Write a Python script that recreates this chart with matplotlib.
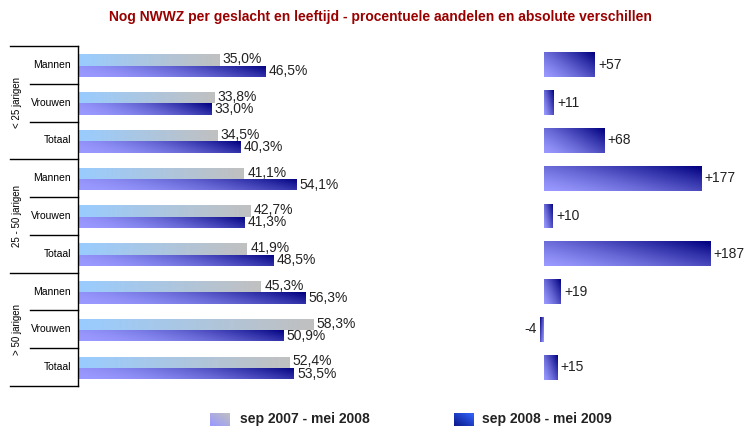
import numpy as np
import matplotlib
matplotlib.use("Agg")
import matplotlib.pyplot as plt
from matplotlib.colors import LinearSegmentedColormap

plt.rcParams['font.family'] = ['Liberation Sans', 'DejaVu Sans']

# Data
titel = "Nog NWWZ per geslacht en leeftijd - procentuele aandelen en absolute verschillen"
categorieen = ["Mannen", "Vrouwen", "Totaal"] * 3
groepen = ["< 25 jarigen", "25 - 50 jarigen", "> 50 jarigen"]
aandeel_2008 = [35.0, 33.8, 34.5, 41.1, 42.7, 41.9, 45.3, 58.3, 52.4]
aandeel_2009 = [46.5, 33.0, 40.3, 54.1, 41.3, 48.5, 56.3, 50.9, 53.5]
verschil = [57, 11, 68, 177, 10, 187, 19, -4, 15]
legenda = ["sep 2007 - mei 2008", "sep 2008 - mei 2009"]

W, H = 744, 428
fig = plt.figure(figsize=(W / 100, H / 100), dpi=100)

def px_rect(x0, y0, x1, y1):
    # pixel coords (top-left origin) -> figure fraction
    return [x0 / W, 1 - y1 / H, (x1 - x0) / W, (y1 - y0) / H]

cm_grijs = LinearSegmentedColormap.from_list("grijs", ["#99ccff", "#c0c0c0"])
cm_blauw = LinearSegmentedColormap.from_list("blauw", ["#9999ff", "#000080"])

def verloop(ax, bar, cmap, wx, wy, macht=1.0):
    # gradient fill clipped to bar, t grows to the right and upwards (visually)
    n = 64
    u = np.linspace(0, 1, n)
    r = np.linspace(0, 1, n)
    U, R = np.meshgrid(u, r)
    T = (wx * U + wy * (1 - R)) ** macht
    x0, y0 = bar.get_x(), bar.get_y()
    w, h = bar.get_width(), bar.get_height()
    im = ax.imshow(T, cmap=cmap, vmin=0, vmax=1, origin="lower", aspect="auto",
                   extent=(x0, x0 + w, y0, y0 + h), interpolation="bilinear", zorder=2)
    im.set_clip_path(bar)

rijen = np.arange(len(categorieen))

# Left panel: percentages
ax = fig.add_axes(px_rect(78, 46, 320, 386))
b1 = ax.barh(rijen - 0.13, aandeel_2008, height=0.3, color="none", edgecolor="none")
b2 = ax.barh(rijen + 0.17, aandeel_2009, height=0.3, color="none", edgecolor="none")
for b in b1:
    verloop(ax, b, cm_grijs, 1.0, 0.0)
for b in b2:
    verloop(ax, b, cm_blauw, 0.8, 0.2, 1.8)
for i in rijen:
    ax.annotate(f"{aandeel_2008[i]:.1f}%".replace(".", ","), (aandeel_2008[i], i - 0.15),
                xytext=(2.5, 0), textcoords="offset points", va="center", ha="left",
                fontsize=10, color="#222222")
    ax.annotate(f"{aandeel_2009[i]:.1f}%".replace(".", ","), (aandeel_2009[i], i + 0.17),
                xytext=(2.5, 0), textcoords="offset points", va="center", ha="left",
                fontsize=10, color="#222222")
ax.set_xlim(0, 60)
ax.set_ylim(len(rijen) - 0.5, -0.5)
for s in ["top", "right", "bottom"]:
    ax.spines[s].set_visible(False)
ax.spines["left"].set_linewidth(1)
ax.set_xticks([])
ax.set_yticks([])

# category labels and separators
tr = ax.get_yaxis_transform()
for i, naam in enumerate(categorieen):
    ax.text(-0.029, i, naam, transform=tr, ha="right", va="center", fontsize=7.5)
for g in range(len(groepen)):
    ax.text(-0.252, g * 3 + 1, groepen[g], transform=tr, ha="center", va="center",
            rotation=90, fontsize=7)
for k in range(len(rijen) + 1):
    x_start = -0.281 if k % 3 == 0 else -0.198
    ax.plot([x_start, 0], [k - 0.5, k - 0.5], transform=tr, color="black",
            lw=1, clip_on=False)

# Right panel: absolute differences
ax2 = fig.add_axes(px_rect(535.1, 46, 721.6, 386))
b3 = ax2.barh(rijen, verschil, height=0.66, color="none", edgecolor="none")
for b in b3:
    verloop(ax2, b, cm_blauw, 0.6, 0.4, 1.3)
for i in rijen:
    v = verschil[i]
    if v >= 0:
        ax2.annotate(f"+{v}", (v, i), xytext=(2.5, 0), textcoords="offset points",
                     va="center", ha="left", fontsize=10, color="#222222")
    else:
        ax2.annotate(f"{v}", (v, i), xytext=(-2.5, 0), textcoords="offset points",
                     va="center", ha="right", fontsize=10, color="#222222")
ax2.set_xlim(-10, 200)
ax2.set_ylim(len(rijen) - 0.5, -0.5)
ax2.axis("off")

# Title
fig.text(380 / W, 1 - 17 / H, titel, ha="center", va="center", fontsize=10,
         fontweight="bold", color="#990000")

# Legend
cm_leg1 = LinearSegmentedColormap.from_list("l1", ["#9999ff", "#c0c0c0"])
cm_leg2 = LinearSegmentedColormap.from_list("l2", ["#0a1a8c", "#3366ff"])
for (x0, cmap, tekst, xt) in [(210, cm_leg1, legenda[0], 240), (454, cm_leg2, legenda[1], 482)]:
    lax = fig.add_axes(px_rect(x0, 413, x0 + 20, 426))
    U, R = np.meshgrid(np.linspace(0, 1, 20), np.linspace(0, 1, 13))
    lax.imshow((U + R) / 2, cmap=cmap, origin="lower", aspect="auto", interpolation="bilinear")
    lax.axis("off")
    fig.text(xt / W, 1 - 419.5 / H, tekst, ha="left", va="center", fontsize=10,
             fontweight="bold", color="#222222")

fig.savefig("out.png", dpi=100)
